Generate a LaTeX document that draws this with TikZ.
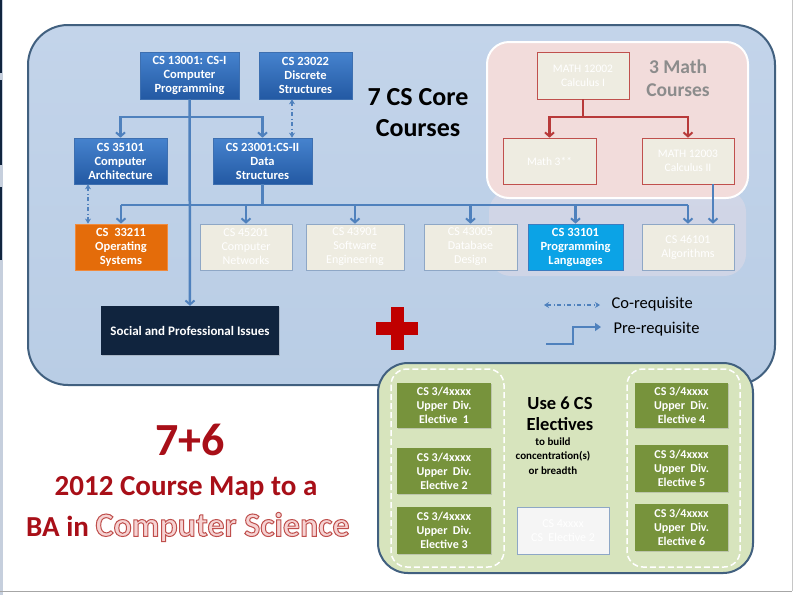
\documentclass[tikz,border=0pt]{standalone}
\usepackage{fontspec}
\setmainfont{Carlito}
\usetikzlibrary{arrows.meta,shadows}
\definecolor{bgblue}{HTML}{B9CDE5}
\definecolor{bgtop}{HTML}{C3D4EA}
\definecolor{bgbd}{HTML}{41607F}
\definecolor{ln}{HTML}{4F81BD}
\definecolor{coretop}{HTML}{4683CE}
\definecolor{corebot}{HTML}{2359A3}
\definecolor{corebd}{HTML}{3D6FB0}
\definecolor{beige}{HTML}{EEECE1}
\definecolor{graybd}{HTML}{8EA7C6}
\definecolor{orng}{HTML}{E46C0A}
\definecolor{orngbd}{HTML}{F08A3C}
\definecolor{cyanb}{HTML}{0BA3E6}
\definecolor{cyanbd}{HTML}{3C7CC0}
\definecolor{navy}{HTML}{10243E}
\definecolor{pinkbg}{HTML}{F2DCDB}
\definecolor{ghostpink}{HTML}{E8DDE6}
\definecolor{mred}{HTML}{B83A3A}
\definecolor{mbd}{HTML}{C0504D}
\definecolor{greenbg}{HTML}{D7E4BD}
\definecolor{elgreen}{HTML}{77933C}
\definecolor{dred}{HTML}{A80F18}
\definecolor{pinkfill}{HTML}{F6D3D3}
\definecolor{mathgray}{HTML}{8C8C8C}
\definecolor{plusred}{HTML}{C00000}
\definecolor{stripgray}{HTML}{C6CFDD}
\newcommand{\outlinetext}[1]{{\color{pinkfill}\special{pdf:literal direct 2 Tr 1 w 0.75 0.31 0.30 RG}#1\special{pdf:literal direct 0 Tr}}}
\tikzset{
  box/.style={rectangle, inner sep=0pt, align=center, text=white,
    font=\bfseries\fontsize{12.5}{14}\selectfont},
  shad/.style={drop shadow={opacity=0.3, shadow xshift=1.2pt, shadow yshift=-1.2pt}},
  core/.style={box, shad, draw=corebd, line width=0.6pt, top color=coretop, bottom color=corebot},
  ghost/.style={box, draw=graybd, line width=0.6pt, fill=beige,
    font=\fontsize{12}{14}\selectfont},
  mathbox/.style={box, draw=mbd, line width=0.6pt, fill=beige,
    font=\fontsize{11.5}{14}\selectfont},
  elect/.style={box, shad, fill=elgreen, font=\bfseries\fontsize{12}{14}\selectfont},
  line/.style={draw=ln, line width=2.5pt},
  pre/.style={line, -{Straight Barb[length=4pt, width=9pt, line width=2pt]}},
  mline/.style={draw=mred, line width=2.5pt},
  mpre/.style={mline, -{Straight Barb[length=4pt, width=9pt, line width=2pt]}},
  coreq/.style={draw=ln, line width=1.5pt, dash pattern=on 4pt off 2.5pt on 1pt off 2.5pt,
    {Stealth[length=5pt, width=6pt]}-{Stealth[length=5pt, width=6pt]}},
  dashbox/.style={draw=white, line width=1.5pt, dash pattern=on 6pt off 3pt, rounded corners=16pt},
}
\begin{document}
\begin{tikzpicture}[x=1pt, y=-1pt]
\useasboundingbox (0,0) rectangle (794,595);
\fill[white] (0,0) rectangle (794,595);
% slide frame artifacts
\fill[stripgray] (0,0) rectangle (3,595);
\fill[navy] (0,0) rectangle (2,73);
\fill[navy] (0,80) rectangle (2,165);
\fill[navy] (0,187) rectangle (2,260);
\draw[gray!70, line width=1pt] (0,591) -- (792,591);
\draw[gray!45, line width=0.8pt] (792,0) -- (792,591);

% main blue panel
\path[draw=bgbd, line width=2pt, top color=bgtop, bottom color=bgblue, rounded corners=40pt]
  (28,25) rectangle (775,385);
% faint pink region behind lower right
\path[fill=ghostpink, opacity=0.45, rounded corners=22pt] (489,190) rectangle (746,276);
% math pink panel
\path[draw=white, line width=2pt, fill=pinkbg, rounded corners=22pt] (487,42) rectangle (748,198);
% green electives panel
\path[draw=bgbd, line width=2pt, fill=greenbg, rounded corners=30pt] (378,363) rectangle (753,573);
\path[dashbox] (391,369) rectangle (504,567);
\path[dashbox] (627,369) rectangle (740,567);

% core course nodes
\node[core, minimum width=99pt, minimum height=47pt] (cs13001) at (189.5,75.5) {CS 13001: CS-I\\Computer\\Programming};
\node[core, minimum width=93pt, minimum height=47pt] (cs23022) at (305.5,75.5) {CS 23022\\Discrete\\Structures};
\node[core, minimum width=93pt, minimum height=46pt] (cs35101) at (120.5,161) {CS 35101\\Computer\\Architecture};
\node[core, minimum width=99pt, minimum height=46pt] (cs23001) at (262.5,161) {CS 23001:CS-II\\Data\\Structures};

\node[box, shad, draw=orngbd, line width=0.8pt, fill=orng, minimum width=92pt, minimum height=46pt] (cs33211) at (121,247) {CS\ \ 33211\\Operating\\Systems};
\node[ghost, minimum width=92pt, minimum height=46pt] (cs45201) at (246,247) {CS 45201\\Computer\\Networks};
\node[ghost, minimum width=98pt, minimum height=46pt] (cs43901) at (355,247) {CS 43901\\Software\\Engineering};
\node[ghost, minimum width=93pt, minimum height=46pt] (cs43005) at (470.5,247) {CS 43005\\Database\\Design};
\node[box, shad, draw=cyanbd, line width=0.8pt, fill=cyanb, minimum width=95pt, minimum height=46pt] (cs33101) at (575.5,247) {CS 33101\\Programming\\Languages};
\node[ghost, minimum width=92pt, minimum height=46pt] (cs46101) at (688,247) {CS 46101\\Algorithms};

\node[box, shad, fill=navy, minimum width=178pt, minimum height=49pt, font=\bfseries\fontsize{13}{15}\selectfont] (social) at (190,330.5) {Social and Professional Issues};

% math nodes
\node[mathbox, minimum width=92pt, minimum height=47pt] (math12002) at (583,75.5) {MATH 12002\\Calculus I};
\node[mathbox, minimum width=93pt, minimum height=46pt] (math3) at (549.5,161) {Math 3**};
\node[mathbox, minimum width=92pt, minimum height=46pt] (math12003) at (688,161) {MATH 12003\\Calculus II};

% labels
\node[font=\bfseries\fontsize{26}{31}\selectfont, align=center] (title) at (418,112.5) {7 CS Core\\Courses};
\node[font=\bfseries\fontsize{19.5}{23}\selectfont, align=center, text=mathgray] (mathlab) at (678,78.5) {3 Math\\Courses};

% prerequisite connectors (CS)
\coordinate (b1) at (189.5,117);
\coordinate (b2) at (262.5,205);
\coordinate (c1) at (292,0);
\coordinate (c2) at (88,0);
\coordinate (c3) at (713,0);
\draw[pre] (cs13001.south) -- (social.north);
\draw[pre] (b1) -| (cs35101.north);
\draw[pre] (b1) -| (cs23001.north);
\draw[line] (cs23001.south) -- (b2);
\draw[line] (cs33211.north |- b2) -- (cs46101.north |- b2);
\foreach \n in {cs33211,cs45201,cs43901,cs43005,cs33101,cs46101}
  \draw[pre] (\n.north |- b2) -- (\n.north);
\draw[pre] (math12003.south -| c3) -- (cs46101.north -| c3);
% co-requisites
\draw[coreq] (cs23022.south -| c1) -- (cs23001.north -| c1);
\draw[coreq] (cs35101.south -| c2) -- (cs33211.north -| c2);

% math connectors
\coordinate (b3) at (583,117);
\draw[mline] (math12002.south) -- (b3);
\draw[mpre] (b3) -| (math3.north);
\draw[mpre] (b3) -| (math12003.north);

% plus sign
\fill[plusred] (376,322) rectangle (418,335);
\fill[plusred] (390.5,307) rectangle (403.5,350);

% legend
\coordinate (l1) at (544,305);
\coordinate (l2) at (600,305);
\draw[coreq] (l1) -- (l2);
\node[anchor=west, font=\fontsize{16.5}{19}\selectfont] (colab) at (608,304) {Co-requisite};
\coordinate (p1) at (546,344);
\coordinate (p2) at (601,327);
\draw[line, -{Triangle[length=6pt, width=8pt]}] (p1) -- (573,344) -- (573,327) -- (p2);
\node[anchor=west, font=\fontsize{16.5}{19}\selectfont] (prelab) at (610,329) {Pre-requisite};

% electives
\node[elect, minimum width=94pt, minimum height=45pt] (e1) at (444,405.5) {CS 3/4xxxx\\Upper\ \ Div.\\Elective\ \ 1};
\node[elect, minimum width=94pt, minimum height=46pt] (e2) at (444,471) {CS 3/4xxxx\\Upper\ \ Div.\\Elective 2};
\node[elect, minimum width=94pt, minimum height=47pt] (e3) at (444,530.5) {CS 3/4xxxx\\Upper\ \ Div.\\Elective 3};
\node[elect, minimum width=93pt, minimum height=45pt] (e4) at (681.5,405.5) {CS 3/4xxxx\\Upper\ \ Div.\\Elective 4};
\node[elect, minimum width=93pt, minimum height=47pt] (e5) at (681.5,468.5) {CS 3/4xxxx\\Upper\ \ Div.\\Elective 5};
\node[elect, minimum width=93pt, minimum height=47pt] (e6) at (681.5,527.5) {CS 3/4xxxx\\Upper\ \ Div.\\Elective 6};
\node[box, draw=graybd, line width=0.8pt, fill=gray!8, minimum width=92pt, minimum height=47pt,
  font=\fontsize{12}{14}\selectfont] (e7) at (563,530.5) {CS 4xxxx\\CS\ \ Elective 2};
\node[font=\bfseries\fontsize{18.5}{21}\selectfont, align=center] (uselab) at (560,413.5) {Use 6 CS\\Electives};
\node[font=\bfseries\fontsize{11}{14.5}\selectfont, align=center] (buildlab) at (553,456) {to build\\concentration(s)\\or breadth};

% big caption
\node[text=dred, font=\bfseries\fontsize{46}{50}\selectfont] (t76) at (190,440) {7+6};
\node[text=dred, font=\bfseries\fontsize{29}{34}\selectfont] (tmap) at (186,488) {2012 Course Map to a};
\node[text=dred, font=\bfseries\fontsize{29}{34}\selectfont, anchor=west, inner sep=0pt] (tba) at (26,527)
  {BA in \outlinetext{\fontsize{34}{38}\selectfont Computer Science}};
\end{tikzpicture}
\end{document}
